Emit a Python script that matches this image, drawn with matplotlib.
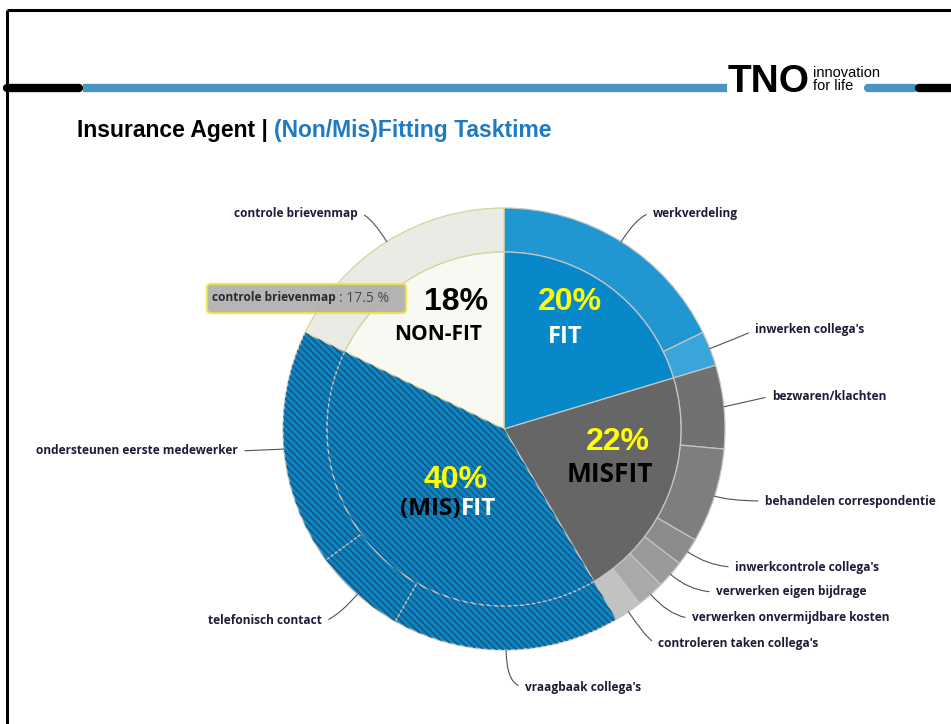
import numpy as np
import matplotlib
matplotlib.use("Agg")
from matplotlib import pyplot as plt
from matplotlib.patches import FancyBboxPatch

# outer ring: tasks, clockwise from 12 o'clock (percent of task time)
task_names = ["werkverdeling", "inwerken collega's",
              "bezwaren/klachten", "behandelen correspondentie",
              "inwerkcontrole collega's", "verwerken eigen bijdrage",
              "verwerken onvermijdbare kosten", "controleren taken collega's",
              "vraagbaak collega's", "telefonisch contact",
              "ondersteunen eerste medewerker",
              "controle brievenmap"]
task_values = [17.5, 2.5,
               6.0, 6.8, 2.0, 2.0, 2.0, 2.0,
               16.4, 6.6, 17.0,
               17.5]
task_group = [0, 0, 1, 1, 1, 1, 1, 1, 2, 2, 2, 3]

# inner ring: fit categories
group_names = ["FIT", "MISFIT", "(MIS)FIT", "NON-FIT"]
group_pct_labels = ["20%", "22%", "40%", "18%"]

tooltip_name = "controle brievenmap"
tooltip_value = "17.5 %"

title_black = "Insurance Agent | "
title_blue = "(Non/Mis)Fitting Tasktime"

group_values = [sum(v for v, g in zip(task_values, task_group) if g == k) for k in range(4)]

W, H = 951, 724
fig = plt.figure(figsize=(W / 100, H / 100), dpi=100)

# colours
inner_colors = ["#0788c8", "#666666", "#0a88c6", "#f9f9f4"]
outer_colors = ["#2097d0", "#3aa5d9",
                "#717171", "#7e7e7e", "#8b8b8b", "#9a9a9a", "#a9a9a9", "#c2c2c2",
                "#0a88c6", "#0a88c6", "#0a88c6",
                "#ebebe6"]
stripe = "#1a5580"
plt.rcParams["hatch.linewidth"] = 1.2

# pie axes placed so that the chart centre sits at (504, 429) px, radius 221 px
cx, cy, R = 504, 429, 221
pie_ax = fig.add_axes([(cx - R) / W, (H - cy - R) / H, 2 * R / W, 2 * R / H])
r_in = 177 / R

outer_w, _ = pie_ax.pie(task_values, radius=1, startangle=90, counterclock=False,
                        colors=outer_colors,
                        wedgeprops=dict(width=1 - r_in, edgecolor="#c4c4c4", linewidth=0.9))
inner_w, _ = pie_ax.pie(group_values, radius=r_in, startangle=90, counterclock=False,
                        colors=inner_colors,
                        wedgeprops=dict(edgecolor="#c4c4c4", linewidth=0.9))
# NON-FIT slices have a yellowish outline
outer_w[-1].set_edgecolor("#d4d49c")
inner_w[-1].set_edgecolor("#d4d49c")

# stripes on the (MIS)FIT slices
hp = "\\" * 5
hatch_outer = [hp if g == 2 else "" for g in task_group]
pie_ax.pie(task_values, radius=1, startangle=90, counterclock=False,
           colors=["none"] * len(task_values), hatch=hatch_outer,
           wedgeprops=dict(width=1 - r_in, edgecolor=stripe, linewidth=0))
hatch_inner = [hp if k == 2 else "" for k in range(4)]
pie_ax.pie(group_values, radius=r_in, startangle=90, counterclock=False,
           colors=["none"] * 4, hatch=hatch_inner,
           wedgeprops=dict(edgecolor=stripe, linewidth=0))
pie_ax.set_xlim(-1, 1)
pie_ax.set_ylim(-1, 1)
pie_ax.set_aspect("equal")
pie_ax.axis("off")
pie_ax.set_zorder(1)

# overlay axes in image pixel coordinates (y down)
ov = fig.add_axes([0, 0, 1, 1])
ov.set_xlim(0, W)
ov.set_ylim(H, 0)
ov.axis("off")
ov.set_zorder(2)

# slide frame and header band
ov.plot([7, W], [10, 10], color="black", lw=2.2, solid_capstyle="butt")
ov.plot([7, 7], [10, H], color="black", lw=2.2, solid_capstyle="butt")
ov.plot([7, 79], [88, 88], color="black", lw=6, solid_capstyle="round")
ov.plot([83, 727], [88, 88], color="#4a94c2", lw=6, solid_capstyle="butt")
ov.plot([868, 914], [88, 88], color="#4a94c2", lw=6, solid_capstyle="round")
ov.plot([919, W], [88, 88], color="black", lw=6, solid_capstyle="round")
ov.text(728, 82, "TNO", fontsize=28, fontweight="black", family="Liberation Sans",
        ha="left", va="center", color="black")
ov.text(813, 73, "innovation", fontsize=10.5, family="Liberation Sans",
        ha="left", va="center", color="black")
ov.text(813, 86, "for life", fontsize=10.5, family="Liberation Sans",
        ha="left", va="center", color="black")

# title
t1 = ov.text(77, 130, title_black, fontsize=16.5, fontweight="bold",
             family="Liberation Sans", ha="left", va="center", color="black")
ov.annotate(title_blue, xy=(1, 0.5), xycoords=t1, xytext=(0, 0), textcoords="offset points",
            fontsize=16.5, fontweight="bold", family="Liberation Sans",
            ha="left", va="center", color="#1f7bc1")

# outer labels with curved leader lines
label_pos = [(653, 213), (755, 329), (772, 396), (765, 501), (735, 567), (716, 592),
             (692, 618), (658, 644), (525, 687), (322, 621), (238, 451), (358, 213)]
for name, w, (tx, ty) in zip(task_names, outer_w, label_pos):
    mid = np.deg2rad((w.theta1 + w.theta2) / 2)
    left = tx < cx - 100 or (tx < cx and ty < 300)
    ha = "right" if left else "left"
    if abs(np.sin(mid)) < 0.3:
        cs = "arc3,rad=0"
    else:
        cs = f"angle3,angleA=0,angleB={np.rad2deg(mid):.1f}"
    ov.annotate(name, xy=(np.cos(mid), np.sin(mid)), xycoords=pie_ax.transData,
                xytext=(tx, ty), textcoords="data", ha=ha, va="center",
                fontsize=8.6, fontweight="bold", family="Open Sans", color="#1c1c38",
                arrowprops=dict(arrowstyle="-", color="#50505c", lw=0.8,
                                connectionstyle=cs, relpos=(1, 0.5) if left else (0, 0.5),
                                shrinkA=3, shrinkB=0))

# inner labels
pct_font = dict(fontsize=23, fontweight="bold", family="Liberation Sans", ha="center", va="center")
name_font = dict(family="Open Sans", fontweight="bold", ha="center", va="center")
ov.text(456, 302, group_pct_labels[3], color="black", **pct_font)
ov.text(438, 334, group_names[3], color="black", fontsize=15, **name_font)
ov.text(570, 302, group_pct_labels[0], color="#ffff00", **pct_font)
ov.text(565, 337, group_names[0], color="white", fontsize=17, **name_font)
ov.text(618, 442, group_pct_labels[1], color="#ffff00", **pct_font)
ov.text(610, 474, group_names[1], color="black", fontsize=19, **name_font)
ov.text(456, 480, group_pct_labels[2], color="#ffff00", **pct_font)
ov.text(461, 509, group_names[2][:5], color="black", fontsize=17.5, family="Open Sans",
        fontweight="bold", ha="right", va="center")
ov.text(461, 509, group_names[2][5:], color="white", fontsize=17.5, family="Open Sans",
        fontweight="bold", ha="left", va="center")

# tooltip
ov.add_patch(FancyBboxPatch((207, 284), 199, 29, boxstyle="round,pad=0,rounding_size=4",
                            facecolor="#adadad", edgecolor="#f0e040", lw=1.6, alpha=0.9))
tt = ov.text(212, 298, tooltip_name, fontsize=8.6, fontweight="bold", family="Open Sans",
             color="#2a2a30", ha="left", va="center")
ov.annotate(": " + tooltip_value, xy=(1, 0.5), xycoords=tt, xytext=(2, 0),
            textcoords="offset points", fontsize=10, family="Open Sans",
            color="#4a4a4a", ha="left", va="center")

fig.savefig("out.png", dpi=100)
